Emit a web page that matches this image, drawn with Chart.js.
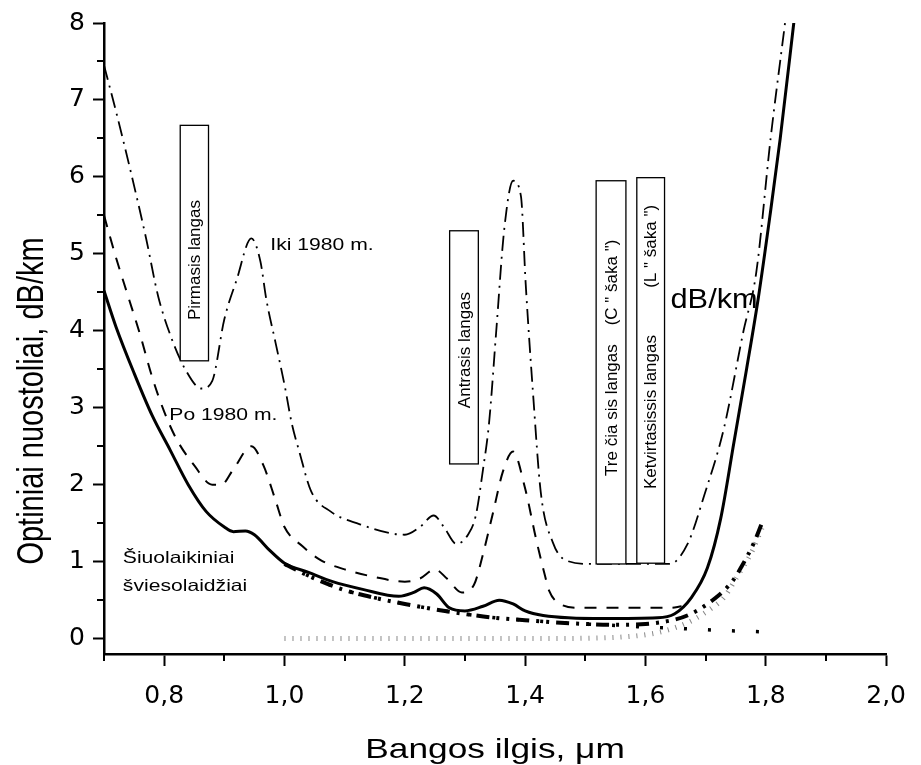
<!DOCTYPE html>
<html>
<head>
<meta charset="utf-8">
<script src="https://cdn.jsdelivr.net/npm/chart.js@4.4.0/dist/chart.umd.min.js"></script>
<style>
  body { margin: 0; background: #fff; }
</style>
</head>
<body>
<canvas id="chart" width="921" height="765"></canvas>
<script>
// tick values
const xTicks = [0.8, 1.0, 1.2, 1.4, 1.6, 1.8, 2.0]
const xMinorTicks = [0.7, 0.9, 1.1, 1.3, 1.5, 1.7, 1.9]
const yTicks = [0, 1, 2, 3, 4, 5, 6, 7, 8]
const yMinorTicks = [0.5, 1.5, 2.5, 3.5, 4.5, 5.5, 6.5, 7.5]

// Šiuolaikiniai šviesolaidžiai (solid)
const modernX = [0.70, 0.72, 0.75, 0.78, 0.81, 0.84, 0.87, 0.90, 0.915, 0.935, 0.95, 0.975, 1.00, 1.04, 1.08, 1.13, 1.19, 1.215, 1.232, 1.253, 1.274, 1.30, 1.33, 1.357, 1.38, 1.40, 1.43, 1.53, 1.62, 1.648, 1.676, 1.703, 1.725, 1.747, 1.768, 1.788, 1.807, 1.824, 1.848]
const modernY = [4.52, 4.05, 3.45, 2.90, 2.45, 2.00, 1.65, 1.45, 1.39, 1.40, 1.35, 1.15, 0.98, 0.86, 0.74, 0.64, 0.55, 0.60, 0.66, 0.58, 0.40, 0.36, 0.42, 0.50, 0.45, 0.36, 0.30, 0.26, 0.27, 0.32, 0.53, 0.92, 1.56, 2.55, 3.50, 4.45, 5.50, 6.50, 8.10]

// Po 1980 m. (dashed)
const po1980X = [0.70, 0.72, 0.74, 0.76, 0.78, 0.80, 0.82, 0.85, 0.88, 0.895, 0.915, 0.945, 0.965, 0.985, 1.00, 1.03, 1.06, 1.10, 1.15, 1.20, 1.225, 1.25, 1.27, 1.295, 1.315, 1.33, 1.347, 1.363, 1.38, 1.40, 1.418, 1.431, 1.44, 1.456, 1.49, 1.64, 1.66]
const po1980Y = [5.50, 4.95, 4.45, 3.95, 3.40, 2.95, 2.60, 2.25, 2.00, 2.00, 2.20, 2.50, 2.25, 1.80, 1.45, 1.20, 1.02, 0.90, 0.80, 0.74, 0.78, 0.90, 0.78, 0.60, 0.70, 1.10, 1.65, 2.17, 2.43, 1.95, 1.30, 0.88, 0.62, 0.46, 0.40, 0.40, 0.42]

// Iki 1980 m. (dash-dot)
const iki1980X = [0.70, 0.72, 0.745, 0.77, 0.79, 0.81, 0.835, 0.862, 0.88, 0.90, 0.92, 0.945, 0.96, 0.97, 0.985, 1.00, 1.012, 1.025, 1.044, 1.077, 1.12, 1.20, 1.225, 1.248, 1.265, 1.286, 1.305, 1.318, 1.33, 1.34, 1.352, 1.365, 1.38, 1.393, 1.401, 1.413, 1.426, 1.446, 1.467, 1.51, 1.64, 1.67, 1.698, 1.73, 1.763, 1.784, 1.808, 1.832]
const iki1980Y = [7.45, 6.85, 6.05, 5.20, 4.45, 3.95, 3.50, 3.25, 3.35, 4.15, 4.65, 5.20, 4.90, 4.40, 3.85, 3.30, 2.80, 2.42, 1.92, 1.65, 1.50, 1.35, 1.45, 1.60, 1.45, 1.23, 1.35, 1.60, 2.20, 2.80, 4.00, 5.30, 5.95, 5.75, 4.60, 3.20, 1.90, 1.25, 1.02, 0.97, 0.97, 1.23, 1.87, 2.72, 4.00, 4.75, 6.50, 8.00]

// teorinė riba (thick dash-dot-dot)
const limitX = [1.00, 1.05, 1.10, 1.15, 1.20, 1.25, 1.30, 1.35, 1.40, 1.45, 1.50, 1.55, 1.60, 1.65, 1.675, 1.71, 1.745, 1.76, 1.78, 1.795]
const limitY = [0.97, 0.78, 0.63, 0.53, 0.45, 0.38, 0.32, 0.27, 0.24, 0.21, 0.19, 0.18, 0.19, 0.25, 0.32, 0.49, 0.75, 0.94, 1.24, 1.53]

// Rayleigh sklaida (sparse dots)
const rayleighX = [1.00, 1.05, 1.10, 1.15, 1.20, 1.25, 1.30, 1.35, 1.40, 1.45, 1.50, 1.55, 1.60, 1.65, 1.70, 1.75, 1.79]
const rayleighY = [0.97, 0.78, 0.63, 0.53, 0.45, 0.38, 0.32, 0.27, 0.24, 0.21, 0.19, 0.17, 0.15, 0.135, 0.115, 0.10, 0.09]

// IR sugertis (grey ticks)
const infraredX = [1.00, 1.20, 1.40, 1.50, 1.56, 1.60, 1.632, 1.676, 1.709, 1.73, 1.755, 1.775, 1.796]
const infraredY = [0.00, 0.00, 0.00, 0.005, 0.02, 0.05, 0.10, 0.23, 0.39, 0.53, 0.84, 1.10, 1.48]

// langų stačiakampiai
const windowLabels = ['Pirmasis langas', 'Antrasis langas', 'Tre čia sis langas    (C " šaka ")', 'Ketvirtasissis langas          (L " šaka ")']
const windowX0 = [0.8267, 1.2745, 1.518, 1.5856]
const windowX1 = [0.8737, 1.3222, 1.5675, 1.6317]
const windowY0 = [3.61, 2.27, 0.97, 0.98]
const windowY1 = [6.67, 5.30, 5.95, 5.99]
const windowTextY = [4.92, 3.75, 3.65, 3.79]

// kiti užrašai
const noteTexts = ['Iki 1980 m.', 'Po 1980 m.', 'Šiuolaikiniai', 'šviesolaidžiai', 'dB/km']
const noteX = [0.9765, 0.8086, 0.7313, 0.7313, 1.6416]
const noteY = [5.11, 2.90, 1.045, 0.684, 4.39]

const xTitle = 'Bangos ilgis, μm'
const yTitle = 'Optiniai nuostoliai, dB/km'

function toPoints(xs, ys) {
    return xs.map((x, i) => ({ x: x, y: ys[i] }))
}

function wideText(ctx, text, x, y, size, stretch, align, baseline) {
    ctx.save()
    ctx.translate(x, y)
    ctx.scale(stretch, 1)
    ctx.font = size + 'px "Liberation Sans", Arial, sans-serif'
    ctx.textAlign = align
    ctx.textBaseline = baseline
    ctx.fillStyle = '#000'
    ctx.fillText(text, 0, 0)
    ctx.restore()
}

// vertikalus tekstas, stretch taikomas ekrano x kryptimi
function upText(ctx, text, x, y, size, baseline, stretch) {
    ctx.save()
    ctx.translate(x, y)
    ctx.scale(stretch || 1, 1)
    ctx.rotate(-Math.PI / 2)
    ctx.font = size + 'px "Liberation Sans", Arial, sans-serif'
    ctx.textAlign = 'center'
    ctx.textBaseline = baseline
    ctx.fillStyle = '#000'
    ctx.fillText(text, 0, 0)
    ctx.restore()
}

const overlayPlugin = {
    id: 'overlay',
    afterDatasetsDraw(chart) {
        const ctx = chart.ctx
        const xs = chart.scales.x
        const ys = chart.scales.y

        // langų rėmeliai
        for (let i = 0; i < windowLabels.length; i++) {
            const l = xs.getPixelForValue(windowX0[i])
            const r = xs.getPixelForValue(windowX1[i])
            const t = ys.getPixelForValue(windowY1[i])
            const b = ys.getPixelForValue(windowY0[i])
            ctx.save()
            ctx.fillStyle = '#fff'
            ctx.fillRect(l, t, r - l, b - t)
            ctx.strokeStyle = '#000'
            ctx.lineWidth = 1.3
            ctx.strokeRect(l, t, r - l, b - t)
            ctx.restore()
            upText(ctx, windowLabels[i], (l + r) / 2 + 1, ys.getPixelForValue(windowTextY[i]), 17, 'middle')
        }

        for (let i = 0; i < noteTexts.length; i++) {
            const px = xs.getPixelForValue(noteX[i])
            const py = ys.getPixelForValue(noteY[i])
            if (noteTexts[i] === 'dB/km') {
                wideText(ctx, noteTexts[i], px, py, 27, 1.14, 'left', 'middle')
            } else {
                wideText(ctx, noteTexts[i], px, py, 16.5, 1.28, 'left', 'middle')
            }
        }
    },
    afterDraw(chart) {
        const ctx = chart.ctx
        const xs = chart.scales.x
        const ys = chart.scales.y
        const area = chart.chartArea

        // smulkios padalos
        ctx.save()
        ctx.strokeStyle = '#000'
        ctx.lineWidth = 2
        ctx.beginPath()
        xMinorTicks.forEach(v => {
            const px = Math.round(xs.getPixelForValue(v))
            ctx.moveTo(px, area.bottom)
            ctx.lineTo(px, area.bottom + 7)
        })
        yMinorTicks.forEach(v => {
            const py = Math.round(ys.getPixelForValue(v))
            ctx.moveTo(area.left, py)
            ctx.lineTo(area.left - 7, py)
        })
        ctx.stroke()
        ctx.restore()

        // ašių pavadinimai
        wideText(ctx, xTitle, (area.left + area.right) / 2, 758, 28, 1.26, 'center', 'alphabetic')
        upText(ctx, yTitle, 43, 401, 29, 'alphabetic', 1.3)
    }
}

const tickFont = { family: '"DejaVu Sans", sans-serif', size: 25 }

new Chart(document.getElementById('chart'), {
    type: 'line',
    data: {
        datasets: [
            {
                label: 'Šiuolaikiniai šviesolaidžiai',
                data: toPoints(modernX, modernY),
                borderColor: '#000',
                borderWidth: 3
            },
            {
                label: 'Po 1980 m.',
                data: toPoints(po1980X, po1980Y),
                borderColor: '#000',
                borderWidth: 2,
                borderDash: [12, 10]
            },
            {
                label: 'Iki 1980 m.',
                data: toPoints(iki1980X, iki1980Y),
                borderColor: '#000',
                borderWidth: 1.8,
                borderDash: [15, 6, 2, 6]
            },
            {
                label: 'Riba',
                data: toPoints(limitX, limitY),
                borderColor: '#000',
                borderWidth: 4,
                borderDash: [13, 7, 3, 7, 3, 7]
            },
            {
                label: 'Rayleigh',
                data: toPoints(rayleighX, rayleighY),
                borderColor: '#000',
                borderWidth: 3.5,
                borderDash: [3, 21]
            },
            {
                label: 'IR',
                data: toPoints(infraredX, infraredY),
                borderColor: '#888',
                borderWidth: 5,
                borderDash: [1, 7]
            }
        ]
    },
    options: {
        responsive: false,
        animation: false,
        events: [],
        elements: {
            point: { radius: 0 },
            line: { cubicInterpolationMode: 'monotone', fill: false, borderCapStyle: 'butt' }
        },
        layout: {
            padding: { left: 0, right: 26, top: 18, bottom: 0 }
        },
        scales: {
            x: {
                type: 'linear',
                min: 0.7,
                max: 2.0,
                afterBuildTicks: (scale) => { scale.ticks = xTicks.map(v => ({ value: v })) },
                afterFit: (scale) => { scale.height = 111 },
                ticks: {
                    font: tickFont,
                    color: '#000',
                    padding: 15,
                    maxRotation: 0,
                    callback: (v) => Number(v).toFixed(1).replace('.', ',')
                },
                grid: {
                    drawOnChartArea: false,
                    drawTicks: true,
                    tickLength: 12,
                    tickWidth: 2,
                    tickColor: '#000'
                },
                border: { display: true, color: '#000', width: 2.5 }
            },
            y: {
                type: 'linear',
                min: -0.2,
                max: 8,
                afterBuildTicks: (scale) => { scale.ticks = yTicks.map(v => ({ value: v })) },
                afterFit: (scale) => { scale.width = 104 },
                ticks: {
                    font: tickFont,
                    color: '#000',
                    padding: 8,
                    callback: (v) => String(v)
                },
                grid: {
                    drawOnChartArea: false,
                    drawTicks: true,
                    tickLength: 11,
                    tickWidth: 2,
                    tickColor: '#000'
                },
                border: { display: true, color: '#000', width: 2.5 }
            }
        },
        plugins: {
            legend: { display: false },
            tooltip: { enabled: false },
            title: { display: false }
        }
    },
    plugins: [overlayPlugin]
})
</script>
</body>
</html>
